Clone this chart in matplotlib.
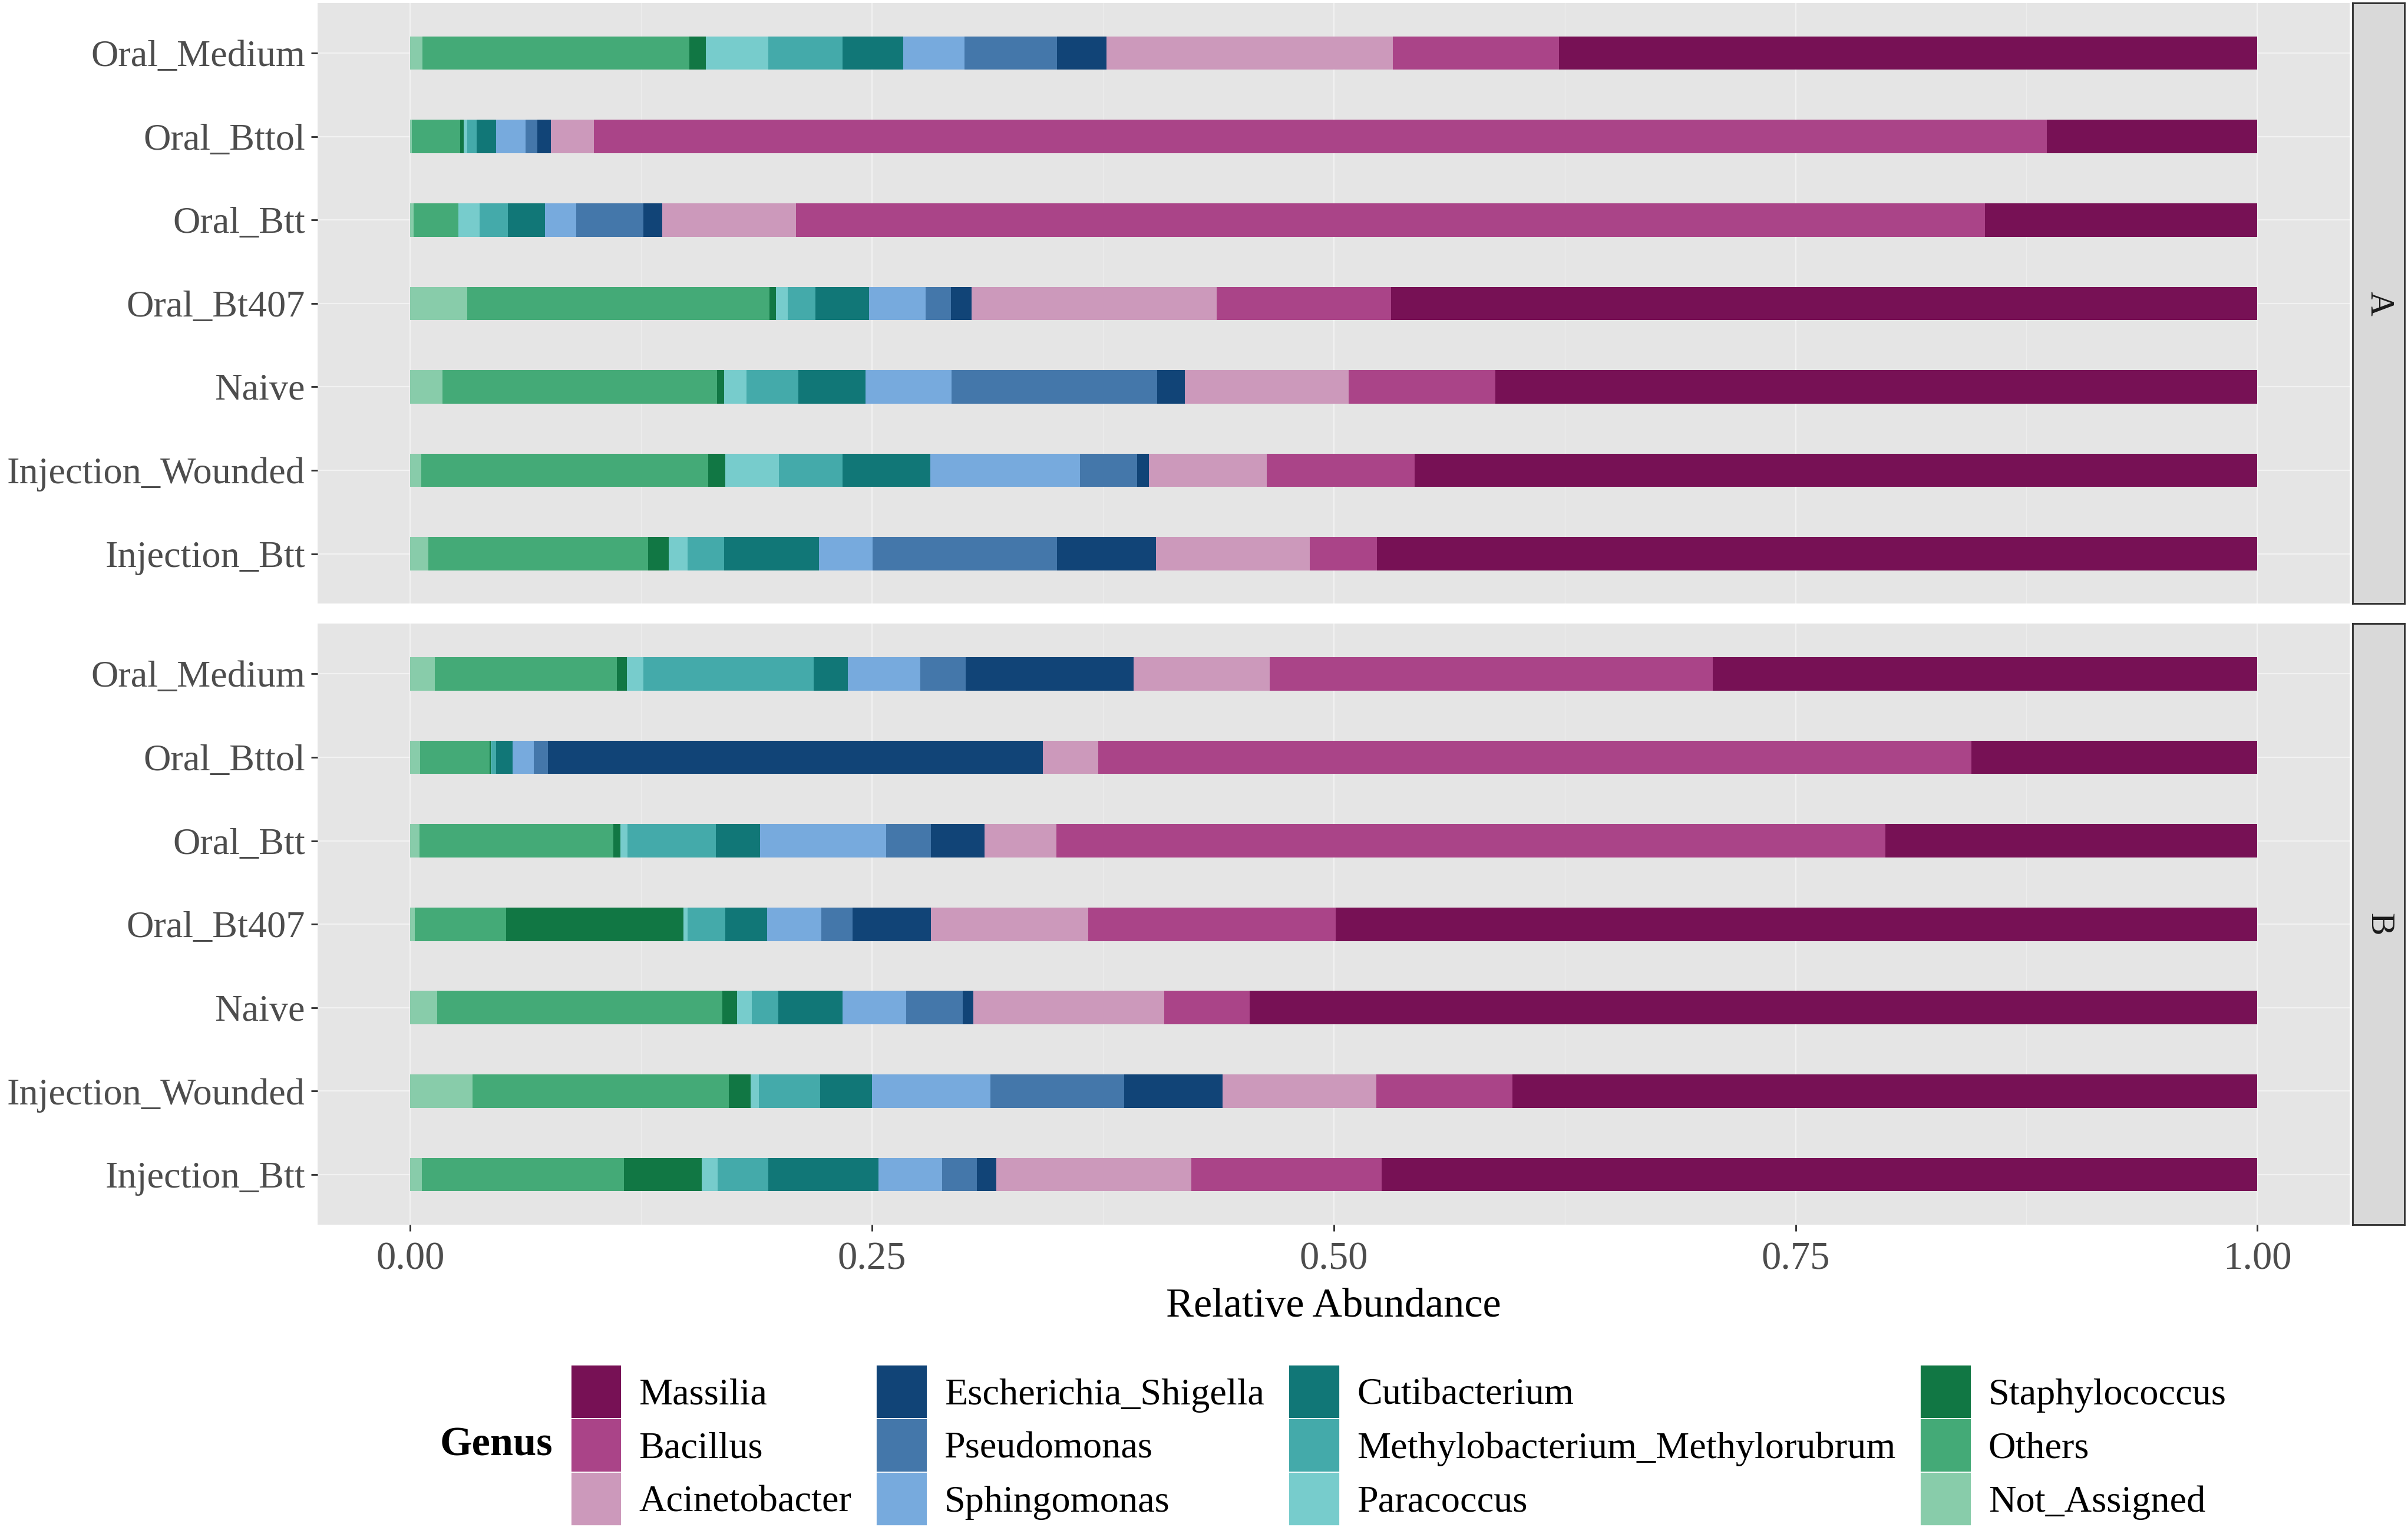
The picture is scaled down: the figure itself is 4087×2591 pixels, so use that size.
import matplotlib.pyplot as plt
import numpy as np
from matplotlib.patches import Patch

plt.rcParams['font.family'] = ['Liberation Serif', 'DejaVu Serif']

samples = ['Oral_Medium', 'Oral_Bttol', 'Oral_Btt', 'Oral_Bt407', 'Naive',
           'Injection_Wounded', 'Injection_Btt']

# stacking order, left to right
genera = ['Not_Assigned', 'Others', 'Staphylococcus', 'Paracoccus',
          'Methylobacterium_Methylorubrum', 'Cutibacterium', 'Sphingomonas',
          'Pseudomonas', 'Escherichia_Shigella', 'Acinetobacter', 'Bacillus', 'Massilia']

genus_colors = ['#88CCAA', '#44AA77', '#117744', '#77CCCC', '#44AAAA', '#117777',
                '#77AADD', '#4477AA', '#114477', '#CC99BB', '#AA4488', '#771155']

# legend order (column-wise, 3 rows)
legend_order = ['Massilia', 'Bacillus', 'Acinetobacter',
                'Escherichia_Shigella', 'Pseudomonas', 'Sphingomonas',
                'Cutibacterium', 'Methylobacterium_Methylorubrum', 'Paracoccus',
                'Staphylococcus', 'Others', 'Not_Assigned']

# rows = samples, columns = genera (same order as `genera`)
abundance_a = [
    [0.0066, 0.1444, 0.009, 0.034, 0.040, 0.033, 0.033, 0.050, 0.027, 0.155, 0.090, 0.378],
    [0.001, 0.026, 0.002, 0.002, 0.005, 0.0105, 0.0158, 0.0064, 0.0073, 0.0234, 0.7866, 0.114],
    [0.0017, 0.0243, 0.0, 0.0115, 0.0154, 0.0201, 0.017, 0.0363, 0.0102, 0.0725, 0.6435, 0.1475],
    [0.031, 0.1635, 0.0035, 0.0063, 0.015, 0.029, 0.0307, 0.0137, 0.0111, 0.1327, 0.0945, 0.469],
    [0.0175, 0.1485, 0.004, 0.012, 0.028, 0.0366, 0.0464, 0.1114, 0.015, 0.0886, 0.0795, 0.4125],
    [0.006, 0.1553, 0.0093, 0.0291, 0.0343, 0.0476, 0.081, 0.0308, 0.0064, 0.0638, 0.0802, 0.4562],
    [0.0098, 0.119, 0.0111, 0.0101, 0.020, 0.0513, 0.0291, 0.0996, 0.0536, 0.0834, 0.0364, 0.4766],
]

abundance_b = [
    [0.0132, 0.0986, 0.0055, 0.009, 0.0921, 0.0184, 0.0392, 0.0248, 0.0908, 0.0737, 0.240, 0.2947],
    [0.0055, 0.0375, 0.0005, 0.0005, 0.0025, 0.009, 0.0115, 0.0076, 0.268, 0.0298, 0.4728, 0.1548],
    [0.0051, 0.1049, 0.0039, 0.0038, 0.0478, 0.0239, 0.0683, 0.0243, 0.029, 0.0388, 0.4489, 0.2013],
    [0.0026, 0.0494, 0.096, 0.002, 0.0206, 0.0227, 0.0294, 0.0167, 0.0426, 0.085, 0.134, 0.499],
    [0.0145, 0.1545, 0.008, 0.008, 0.0143, 0.0349, 0.0342, 0.0306, 0.006, 0.1033, 0.046, 0.5457],
    [0.0337, 0.1387, 0.0119, 0.0043, 0.0332, 0.0282, 0.064, 0.0725, 0.0533, 0.0833, 0.0736, 0.4033],
    [0.0064, 0.1092, 0.0422, 0.0086, 0.0276, 0.0594, 0.0346, 0.0187, 0.0107, 0.1054, 0.1032, 0.474],
]

panel_labels = ['A', 'B']


def draw_panel(ax, data, show_x):
    data = np.array(data)
    y = np.arange(len(samples))
    left = np.zeros(len(samples))
    for j, g in enumerate(genera):
        ax.barh(y, data[:, j], left=left, height=0.4, color=genus_colors[j],
                edgecolor='none', zorder=3)
        left += data[:, j]
    ax.set_facecolor('#E5E5E5')
    ax.set_xlim(-0.05, 1.05)
    ax.set_ylim(len(samples) - 0.4, -0.6)
    ax.set_yticks(y)
    ax.set_yticklabels(samples)
    ax.set_xticks([0, 0.25, 0.5, 0.75, 1.0])
    ax.set_xticks([0.125, 0.375, 0.625, 0.875], minor=True)
    ax.grid(which='major', color='#F2F2F2', linewidth=0.6, zorder=0)
    ax.grid(which='minor', axis='x', color='#EDEDED', linewidth=0.35, zorder=0)
    for s in ax.spines.values():
        s.set_visible(False)
    ax.tick_params(axis='y', which='major', length=3, width=0.8, color='#333333',
                   labelsize=17.8, labelcolor='#4D4D4D', pad=3)
    ax.tick_params(axis='x', which='minor', length=0)
    if show_x:
        ax.set_xticklabels(['0.00', '0.25', '0.50', '0.75', '1.00'])
        ax.tick_params(axis='x', which='major', length=3, width=0.8, color='#333333',
                       labelsize=18.5, labelcolor='#4D4D4D', pad=5)
        ax.set_xlabel('Relative Abundance', fontsize=19.5, color='black', labelpad=5)
    else:
        ax.tick_params(axis='x', which='major', length=0, labelbottom=False)


fig = plt.figure(figsize=(4087 / 260, 2591 / 260), dpi=260)

ax_a = fig.add_axes([0.132, 0.6046, 0.8438, 0.3934])
ax_b = fig.add_axes([0.132, 0.198, 0.8438, 0.3935])
draw_panel(ax_a, abundance_a, False)
draw_panel(ax_b, abundance_b, True)

for ax, lab in zip([ax_a, ax_b], panel_labels):
    pos = ax.get_position()
    sax = fig.add_axes([0.9771, pos.y0, 0.0214, pos.height])
    sax.set_facecolor('#D9D9D9')
    sax.set_xticks([])
    sax.set_yticks([])
    for s in sax.spines.values():
        s.set_color('#333333')
        s.set_linewidth(0.8)
    sax.text(0.5, 0.5, lab, rotation=-90, ha='center', va='center',
             fontsize=16, color='#1A1A1A', transform=sax.transAxes)

handles = [Patch(facecolor=genus_colors[genera.index(g)], edgecolor='white',
                 linewidth=0.5, label=g) for g in legend_order]
fig.legend(handles=handles, ncol=4, loc='center left', bbox_to_anchor=(0.237, 0.0533),
           frameon=False, fontsize=17.8, handlelength=1.35, handleheight=1.8,
           handletextpad=0.45, columnspacing=0.65, labelspacing=0.0, borderpad=0,
           borderaxespad=0)
fig.text(0.2295, 0.0533, 'Genus', fontsize=19.5, ha='right', va='center',
         fontweight='bold')

fig.savefig('out.png', dpi=260, facecolor='white')
